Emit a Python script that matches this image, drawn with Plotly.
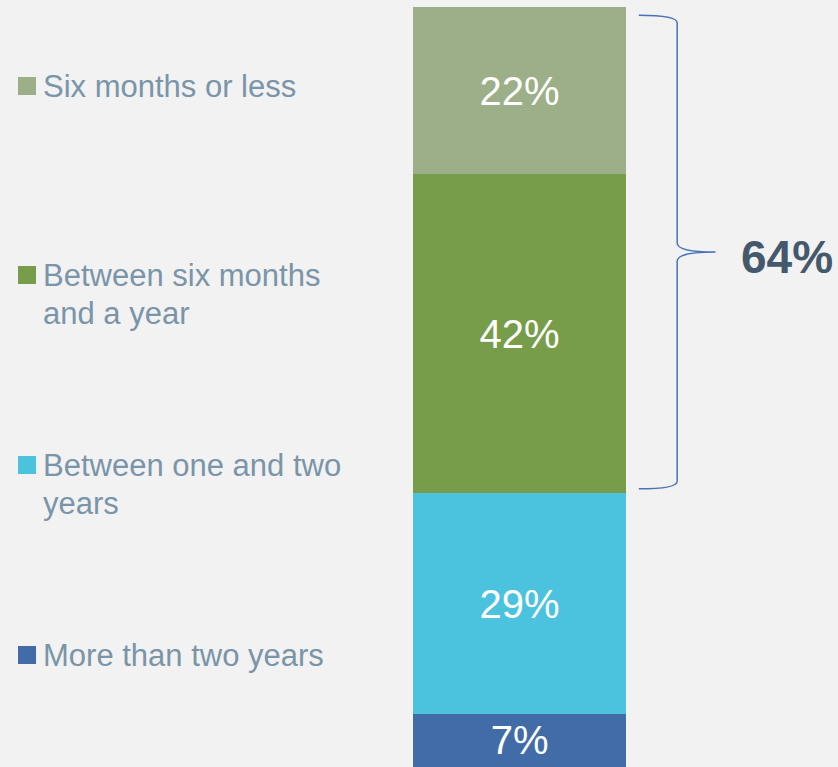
import plotly.graph_objects as go

categories = ['More than two years', 'Between one and two years',
              'Between six months and a year', 'Six months or less']
legend_lines = [['More than two years'], ['Between one and two', 'years'],
                ['Between six months', 'and a year'], ['Six months or less']]
values = [7, 29, 42, 22]
colors = ['#426ca8', '#4bc2de', '#779d4a', '#9caf88']
bracket_label = '64%'

W, H = 838, 767
FONT = 'Liberation Sans, Arial, sans-serif'
fig = go.Figure()
for cat, v, c in zip(categories, values, colors):
    fig.add_trace(go.Bar(
        x=[0], y=[v], name=cat, marker=dict(color=c, line=dict(width=0)),
        width=1, text=[f'{v}%'], textposition='inside', insidetextanchor='middle',
        textfont=dict(color='white', size=40, family=FONT),
        constraintext='none', hoverinfo='skip', showlegend=False))

# legend drawn by hand (entries are spread along the bar)
legend_y = [655, 465, 275, 86]  # pixel centre of first line of each entry
for lines, c, py in zip(legend_lines, colors, legend_y):
    fig.add_shape(type='rect', xref='paper', yref='paper',
                  x0=18 / W, x1=36 / W, y0=(H - py - 9) / H, y1=(H - py + 9) / H,
                  fillcolor=c, line=dict(width=0))
    for i, ln in enumerate(lines):
        fig.add_annotation(xref='paper', yref='paper', x=41 / W, y=(H - py - 38 * i) / H,
                           xanchor='left', yanchor='middle', align='left', showarrow=False,
                           text=ln, font=dict(size=31, color='#7a95a9', family=FONT))

# bracket around the top two segments
lo = values[0] + values[1] + 0.6
hi = sum(values) - 1.1
mid = (lo + hi) / 2
x0, xv, xt = 0.56, 0.74, 0.92
path = (f'M {x0},{hi} Q {xv},{hi} {xv},{hi - 1} L {xv},{mid + 1.2} '
        f'Q {xv},{mid} {xt},{mid} Q {xv},{mid} {xv},{mid - 1.2} '
        f'L {xv},{lo + 1} Q {xv},{lo} {x0},{lo}')
fig.add_shape(type='path', path=path, xref='x', yref='y',
              line=dict(color='#4a72b8', width=1.5))
fig.add_annotation(x=1.256, y=mid - 0.6, xref='x', yref='y', text=f'<b>{bracket_label}</b>',
                   showarrow=False, xanchor='center', yanchor='middle',
                   font=dict(size=46, color='#44596b', family=FONT))

fig.update_layout(
    barmode='stack', width=W, height=H,
    margin=dict(l=0, r=0, t=0, b=0),
    paper_bgcolor='#f2f2f2', plot_bgcolor='#f2f2f2',
    xaxis=dict(range=[-2.439, 1.495], visible=False, fixedrange=True),
    yaxis=dict(range=[0, 100.92], visible=False, fixedrange=True),
)
fig.write_html('out.html', config={'displayModeBar': False},
               post_script="document.body.style.margin='0';document.body.style.background='#f2f2f2';")
